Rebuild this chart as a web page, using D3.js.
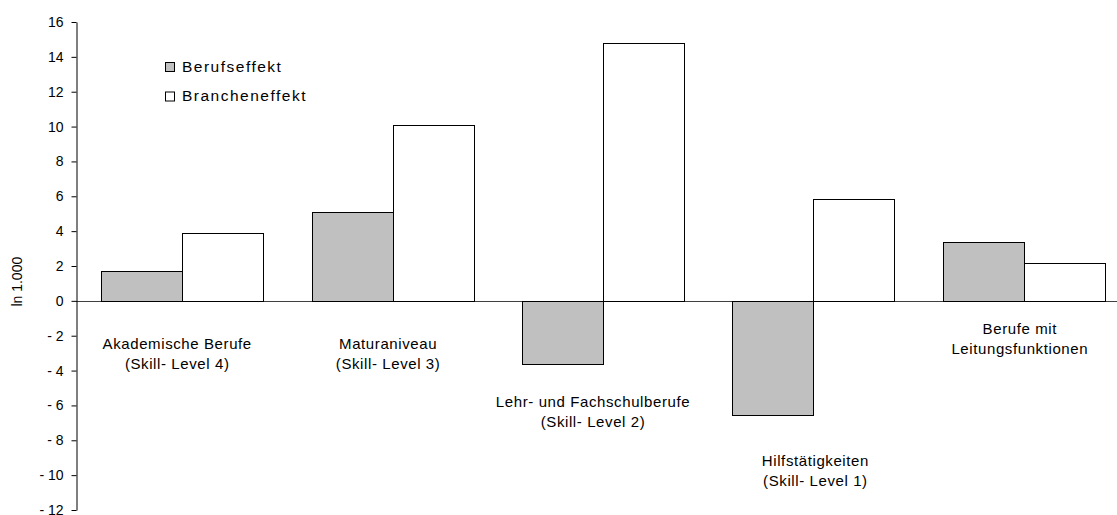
<!DOCTYPE html>
<html>
<head>
<meta charset="utf-8">
<script src="https://cdn.jsdelivr.net/npm/d3@7"></script>
<style>
  html, body { margin: 0; padding: 0; background: #fff; }
  svg { display: block; font-family: "Liberation Sans", Arial, sans-serif; }
</style>
</head>
<body>
<svg id="chart" width="1117" height="515"></svg>
<script>
// Category groups (skill levels)
const categories = [
  ["Akademische Berufe", "(Skill- Level 4)"],
  ["Maturaniveau", "(Skill- Level 3)"],
  ["Lehr- und Fachschulberufe", "(Skill- Level 2)"],
  ["Hilfstätigkeiten", "(Skill- Level 1)"],
  ["Berufe mit", "Leitungsfunktionen"]
];
const seriesNames = ["Berufseffekt", "Brancheneffekt"];
const berufseffekt = [1.72, 5.1, -3.6, -6.54, 3.38];
const brancheneffekt = [3.9, 10.1, 14.8, 5.85, 2.18];
const yTicks = [16, 14, 12, 10, 8, 6, 4, 2, 0, -2, -4, -6, -8, -10, -12];

// label placement: first-line baseline in axis units, horizontal nudge in px
const labelLayout = [
  { y: -2.76, dx: -5 },
  { y: -2.76, dx: -4.5 },
  { y: -6.09, dx: -10 },
  { y: -9.47, dx: 2 },
  { y: -1.90, dx: -4 }
];

const svg = d3.select("#chart");
const axisX = 76;
const y = d3.scaleLinear().domain([-12, 16]).range([510, 22]);
const x0 = d3.scaleBand().domain(d3.range(categories.length))
  .range([axisX + 1, axisX + 1 + 5 * 210.4]).paddingInner(0).paddingOuter(0);
const x1 = d3.scaleBand().domain([0, 1]).range([0, x0.bandwidth()]).paddingOuter(0.3).paddingInner(0);

const fills = ["#c0c0c0", "#ffffff"];
const series = [berufseffekt, brancheneffekt];

// zero line
svg.append("line")
  .attr("x1", axisX).attr("x2", 1117)
  .attr("y1", Math.round(y(0)) + 0.5).attr("y2", Math.round(y(0)) + 0.5)
  .attr("stroke", "#404040").attr("stroke-width", 1);

// bars
series.forEach((vals, s) => {
  svg.append("g").selectAll("rect").data(vals).join("rect")
    .attr("x", (d, i) => Math.round(x0(i) + x1(s)) + 0.5)
    .attr("width", Math.round(x1.bandwidth()))
    .attr("y", d => Math.round(y(Math.max(0, d))) + 0.5)
    .attr("height", d => Math.round(Math.abs(y(d) - y(0))))
    .attr("fill", fills[s])
    .attr("stroke", "#000")
    .attr("stroke-width", 1);
});

// y axis
const fmt = d => d < 0 ? "- " + Math.abs(d) : String(d);
const yAxis = d3.axisLeft(y).tickValues(yTicks).tickSize(5).tickSizeOuter(0).tickFormat(fmt).tickPadding(8);
const gy = svg.append("g").attr("transform", `translate(${axisX + 0.5},0)`).call(yAxis);
gy.select(".domain").attr("stroke", "#000");
gy.selectAll(".tick line").attr("stroke", "#000");
gy.selectAll(".tick text").attr("font-size", 14).attr("fill", "#000")
  .attr("font-family", "Liberation Sans, Arial, sans-serif");

// axis title
svg.append("text")
  .attr("transform", `translate(22,${y(1.1)}) rotate(-90)`)
  .attr("text-anchor", "middle")
  .attr("font-size", 14)
  .text("ln 1.000");

// category labels
const lab = svg.append("g").attr("font-size", 15).attr("letter-spacing", 0.6).attr("text-anchor", "middle");
categories.forEach((lines, i) => {
  const cx = x0(i) + x0.bandwidth() / 2 + labelLayout[i].dx;
  const t = lab.append("text").attr("x", cx).attr("y", y(labelLayout[i].y));
  lines.forEach((ln, k) => {
    t.append("tspan").attr("x", cx).attr("dy", k === 0 ? 0 : 20.5).text(ln);
  });
});

// legend
const leg = svg.append("g").attr("transform", "translate(165,62)");
seriesNames.forEach((name, s) => {
  const g = leg.append("g").attr("transform", `translate(0,${s * 29.5})`);
  g.append("rect").attr("x", 0.5).attr("y", 0.5).attr("width", 9).attr("height", 9)
    .attr("fill", fills[s]).attr("stroke", "#000");
  g.append("text").attr("x", 17).attr("y", 9.5).attr("font-size", 15.5)
    .attr("letter-spacing", 1.5).text(name);
});
</script>
</body>
</html>
